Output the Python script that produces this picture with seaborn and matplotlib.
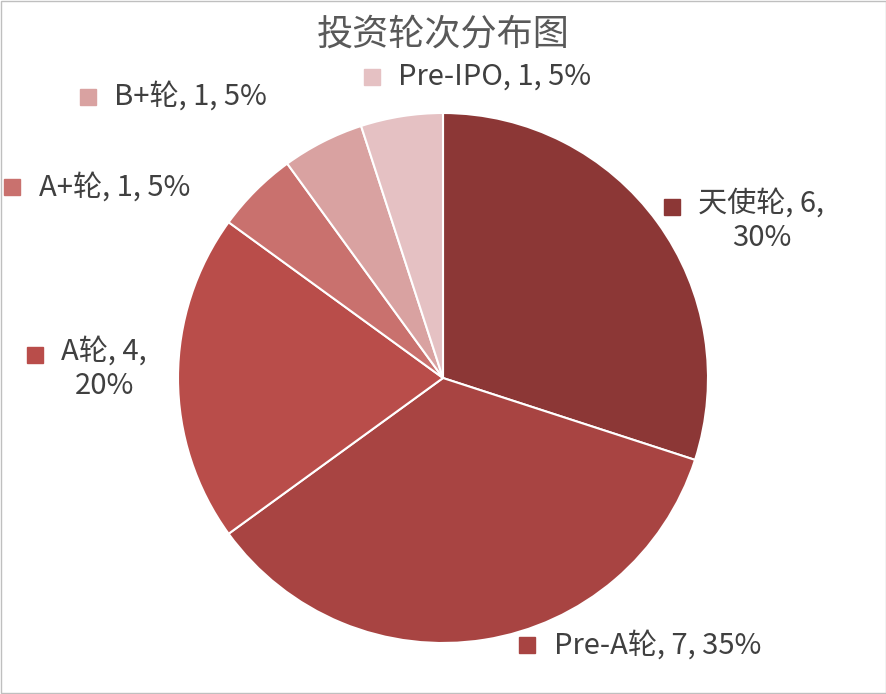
import matplotlib
matplotlib.use("Agg")
import matplotlib.pyplot as plt
import seaborn as sns

sns.set_theme(style="white")
plt.rcParams['font.family'] = ['Noto Sans CJK SC', 'DejaVu Sans']

labels = ["天使轮", "Pre-A轮", "A轮", "A+轮", "B+轮", "Pre-IPO"]
counts = [6, 7, 4, 1, 1, 1]
colors = ["#8C3736", "#A84442", "#B94D4A", "#C9716E", "#D9A2A1", "#E5C1C3"]
label_text = ["天使轮, 6,\n30%", "Pre-A轮, 7, 35%", "A轮, 4,\n20%",
              "A+轮, 1, 5%", "B+轮, 1, 5%", "Pre-IPO, 1, 5%"]
# marker position and text anchor (data units, pie radius = 1)
marker_pos = [(0.864, 0.645), (0.317, -1.008), (-1.54, 0.087),
              (-1.626, 0.72), (-1.34, 1.06), (-0.268, 1.136)]

fig = plt.figure(figsize=(8.87, 6.94), dpi=100)
ax = fig.add_axes([0, 0, 1, 1])
ax.pie(counts, colors=colors, startangle=90, counterclock=False,
       radius=1, wedgeprops=dict(edgecolor="white", linewidth=1.5))
ax.set_aspect("auto")
ax.set_xlim(-443 / 265, 444 / 265)
ax.set_ylim(-316 / 265, 378 / 265)
ax.axis("off")

for (mx, my), txt, c in zip(marker_pos, label_text, colors):
    ax.plot(mx, my, marker="s", ms=12, color=c, ls="none")
    if "\n" in txt:
        ax.text(mx + 0.1, my + 0.07, txt, fontsize=21, color="#404040",
                ha="left", va="top", multialignment="center", linespacing=1.2)
    else:
        ax.text(mx + 0.1, my, txt, fontsize=21, color="#404040",
                ha="left", va="center")

fig.text(0.5, 0.95, "投资轮次分布图", ha="center", va="center",
         fontsize=26, color="#595959")
fig.patches.append(plt.Rectangle((0.001, 0.001), 0.998, 0.998,
                                 transform=fig.transFigure, fill=False,
                                 edgecolor="#BFBFBF", linewidth=1))
fig.savefig("out.png", dpi=100)
